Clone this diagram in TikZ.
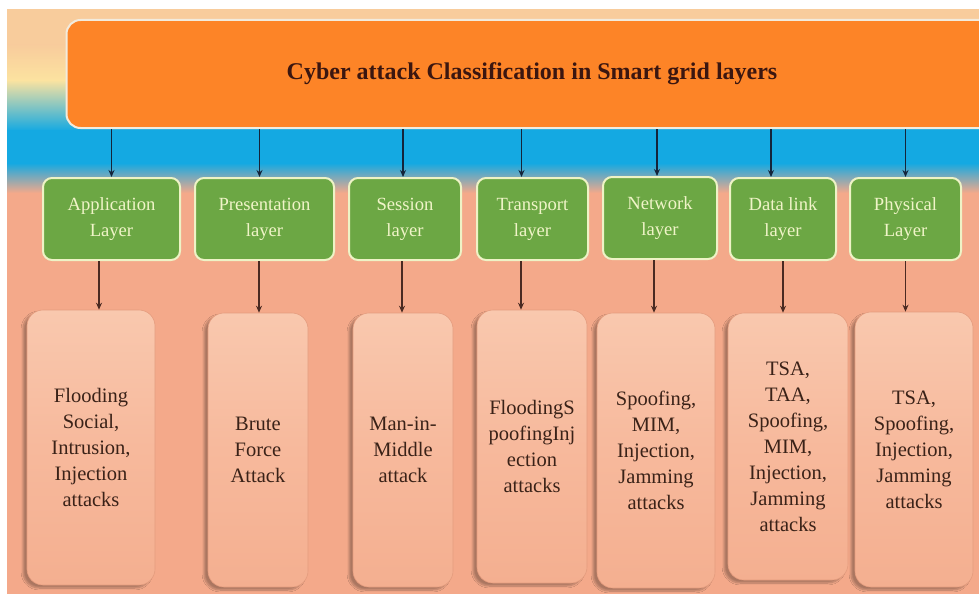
\documentclass[tikz,border=0pt]{standalone}
\usepackage{fontspec}
\setmainfont{Liberation Serif}
\usetikzlibrary{arrows.meta,shadows.blur}
\definecolor{bgsalmon}{HTML}{F4A98A}
\definecolor{bgpeach}{HTML}{F8CC9C}
\definecolor{bgyellow}{HTML}{FCE3A0}
\definecolor{bgmint}{HTML}{B4DAC8}
\definecolor{bgblue}{HTML}{14A9E2}
\definecolor{bgmauve}{HTML}{C49FA8}
\definecolor{titleorange}{HTML}{FD8427}
\definecolor{titlerim}{HTML}{F2EBDD}
\definecolor{titletext}{HTML}{3B1610}
\definecolor{layergreen}{HTML}{6CA744}
\definecolor{layerrim}{HTML}{EEF3C6}
\definecolor{layertext}{HTML}{F0F4C8}
\definecolor{attacktop}{HTML}{F9C8AE}
\definecolor{attackmid}{HTML}{F7B99C}
\definecolor{attackbot}{HTML}{F4AF90}
\definecolor{attackedge}{HTML}{E49C7E}
\definecolor{attacktext}{HTML}{3A2218}
\definecolor{arrowtop}{HTML}{14243A}
\definecolor{arrowbot}{HTML}{4A2A22}
\tikzset{
  titlebox/.style={rectangle,rounded corners=14pt,fill=titleorange,draw=titlerim,line width=2pt,
    minimum width=931pt,minimum height=108pt,text=titletext,font=\fontsize{24}{28}\selectfont\bfseries},
  layerbox/.style={rectangle,rounded corners=9pt,draw=layerrim,line width=2pt,fill=layergreen,
    text=layertext,align=center,minimum height=82pt,inner sep=0pt,font=\fontsize{18.6}{26}\selectfont},
  attackbox/.style={rectangle,rounded corners=16pt,draw=attackedge,line width=.6pt,
    top color=attacktop,bottom color=attackbot,middle color=attackmid,text=attacktext,align=center,
    inner sep=0pt,font=\fontsize{20.5}{26}\selectfont,
    blur shadow={shadow xshift=-4pt,shadow yshift=-3pt,shadow opacity=30,shadow blur steps=8}},
  toparrow/.style={-{Stealth[length=7pt,width=6pt]},line width=1.1pt,draw=arrowtop},
  botarrow/.style={-{Stealth[length=7pt,width=6pt]},line width=1.1pt,draw=arrowbot}
}
\begin{document}
\begin{tikzpicture}[x=1pt,y=-1pt]
\useasboundingbox (0,0) rectangle (979,594);
\clip (0,0) rectangle (979,594);
%background
\fill[white] (0,0) rectangle (979,594);
\fill[bgsalmon] (7,190) rectangle (979,594);
\fill[bgpeach] (7,9) rectangle (979,46);
\shade[top color=bgpeach,bottom color=bgyellow] (7,45) rectangle (979,81);
\shade[top color=bgyellow,middle color=bgmint,bottom color=bgblue] (7,80) rectangle (979,131);
\fill[bgblue] (7,130) rectangle (979,164);
\shade[top color=bgblue,middle color=bgmauve,bottom color=bgsalmon] (7,163) rectangle (979,193);
%title
\node[titlebox] (title) at (532,74) {Cyber attack Classification in Smart grid layers};
%layers
\node[layerbox,minimum width=137pt] (app) at (111.5,219) {Application\\Layer};
\node[layerbox,minimum width=139pt] (pre) at (264.5,219) {Presentation\\layer};
\node[layerbox,minimum width=112pt] (ses) at (405,219) {Session\\layer};
\node[layerbox,minimum width=111pt] (tra) at (532.5,219) {Transport\\layer};
\node[layerbox,minimum width=114pt] (net) at (660,218) {Network\\layer};
\node[layerbox,minimum width=106pt] (dat) at (783,219) {Data link\\layer};
\node[layerbox,minimum width=111pt] (phy) at (905.5,219) {Physical\\Layer};
%attacks
\node[attackbox,minimum width=128pt,minimum height=275pt] (appatk) at (91,447.5)
  {Flooding\\Social,\\Intrusion,\\Injection\\attacks};
\node[attackbox,minimum width=100pt,minimum height=274pt] (preatk) at (258,450)
  {Brute\\Force\\Attack};
\node[attackbox,minimum width=100pt,minimum height=274pt] (sesatk) at (403,450)
  {Man-in-\\Middle\\attack};
\node[attackbox,minimum width=110pt,minimum height=273pt] (traatk) at (532,446.5)
  {FloodingS\\poofingInj\\ection\\attacks};
\node[attackbox,minimum width=118pt,minimum height=275pt] (netatk) at (656,450.5)
  {Spoofing,\\MIM,\\Injection,\\Jamming\\attacks};
\node[attackbox,minimum width=120pt,minimum height=267pt] (datatk) at (788,446.5)
  {TSA,\\TAA,\\Spoofing,\\MIM,\\Injection,\\Jamming\\attacks};
\node[attackbox,minimum width=118pt,minimum height=275pt] (phyatk) at (914,449.5)
  {TSA,\\Spoofing,\\Injection,\\Jamming\\attacks};
%title to layers
\draw[toparrow] (title.south -| app.north) -- (app.north);
\draw[toparrow] ([xshift=-5pt]pre.north |- title.south) -- ([xshift=-5pt]pre.north);
\draw[toparrow] ([xshift=-2pt]ses.north |- title.south) -- ([xshift=-2pt]ses.north);
\draw[toparrow] ([xshift=-11pt]tra.north |- title.south) -- ([xshift=-11pt]tra.north);
\draw[toparrow] ([xshift=-3pt]net.north |- title.south) -- ([xshift=-3pt]net.north);
\draw[toparrow] ([xshift=-12pt]dat.north |- title.south) -- ([xshift=-12pt]dat.north);
\draw[toparrow] (title.south -| phy.north) -- (phy.north);
%layers to attacks
\draw[botarrow] ([xshift=-12.5pt]app.south) -- ([xshift=-12.5pt]app.south |- appatk.north);
\draw[botarrow] ([xshift=-5.5pt]pre.south) -- ([xshift=-5.5pt]pre.south |- preatk.north);
\draw[botarrow] ([xshift=-3pt]ses.south) -- ([xshift=-3pt]ses.south |- sesatk.north);
\draw[botarrow] ([xshift=-11.5pt]tra.south) -- ([xshift=-11.5pt]tra.south |- traatk.north);
\draw[botarrow] ([xshift=-6pt]net.south) -- ([xshift=-6pt]net.south |- netatk.north);
\draw[botarrow] (dat.south) -- (dat.south |- datatk.north);
\draw[botarrow] (phy.south) -- (phy.south |- phyatk.north);
\end{tikzpicture}
\end{document}
